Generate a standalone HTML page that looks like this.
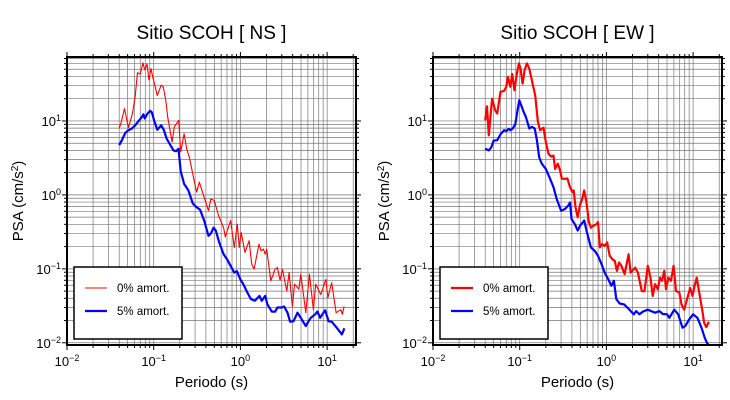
<!DOCTYPE html>
<html><head><meta charset="utf-8"><style>
body{margin:0;background:#fff;}
svg{display:block;font-family:"Liberation Sans",sans-serif;}
</style></head><body>
<svg id="chart" width="730" height="400" viewBox="0 0 730 400"></svg>
<script>
// Data: periods (s) and PSA (cm/s^2)
const nsRedT=[0.040,0.042,0.046,0.051,0.057,0.061,0.065,0.070,0.075,0.079,0.084,0.088,0.093,0.097,0.104,0.110,0.122,0.129,0.138,0.145,0.163,0.173,0.194,0.205,0.224,0.240,0.258,0.292,0.313,0.336,0.381,0.428,0.455,0.50,0.56,0.64,0.67,0.77,0.85,0.92,0.97,1.02,1.13,1.26,1.35,1.44,1.64,1.73,1.84,1.93,2.01,2.24,2.51,2.67,2.87,3.05,3.43,3.64,3.98,4.20,4.71,4.97,5.67,6.25,6.95,7.39,8.45,9.66,10.2,11.3,12.7,14.4,15.0,15.7];
const nsRedA=[7.9,9.4,14.7,8.1,12.6,21,45,43,61,49,59,36,51,40,29,22,30.5,29,19,11.3,5.2,8.3,10.2,3.8,6.7,4.2,3.2,1.57,1.09,1.49,0.93,0.61,0.88,0.84,0.52,0.36,0.27,0.45,0.195,0.40,0.195,0.31,0.167,0.24,0.116,0.099,0.216,0.175,0.185,0.158,0.185,0.069,0.099,0.104,0.070,0.099,0.050,0.089,0.031,0.062,0.053,0.085,0.0255,0.085,0.028,0.062,0.045,0.072,0.041,0.065,0.0255,0.028,0.0243,0.031];
const nsBlueT=[0.040,0.043,0.047,0.051,0.056,0.061,0.067,0.073,0.076,0.079,0.085,0.091,0.095,0.101,0.110,0.122,0.131,0.141,0.154,0.169,0.181,0.193,0.205,0.224,0.251,0.282,0.313,0.343,0.381,0.428,0.455,0.49,0.52,0.57,0.64,0.70,0.77,0.85,0.91,1.0,1.08,1.20,1.32,1.47,1.66,1.76,1.93,2.05,2.30,2.51,2.67,3.0,3.19,3.49,3.74,4.09,4.55,4.97,5.67,6.1,6.49,7.28,7.73,8.3,9.5,10.4,11.3,12.9,14.8,15.8];
const nsBlueA=[4.7,5.5,6.9,7.5,7.9,8.7,10,11.3,12.3,10.8,12.6,13.7,13.1,10.2,7.6,8.7,7.5,5.8,4.8,4.0,3.9,4.2,2.1,1.41,1.15,0.77,0.68,0.63,0.45,0.28,0.30,0.36,0.33,0.228,0.158,0.135,0.11,0.089,0.093,0.072,0.062,0.048,0.039,0.037,0.043,0.037,0.043,0.033,0.0264,0.0263,0.030,0.030,0.031,0.0255,0.0193,0.0195,0.0255,0.0218,0.0168,0.0195,0.0218,0.0243,0.0264,0.0218,0.0275,0.0195,0.0193,0.016,0.013,0.0157];
const ewRedT=[0.040,0.042,0.044,0.048,0.052,0.055,0.060,0.066,0.070,0.073,0.078,0.082,0.087,0.092,0.098,0.102,0.108,0.114,0.121,0.129,0.138,0.151,0.162,0.172,0.188,0.20,0.215,0.231,0.245,0.256,0.275,0.292,0.306,0.333,0.355,0.38,0.405,0.42,0.44,0.466,0.495,0.526,0.555,0.59,0.628,0.662,0.70,0.767,0.80,0.84,0.89,0.956,1.02,1.09,1.17,1.25,1.32,1.40,1.49,1.62,1.80,1.90,2.15,2.31,2.56,2.75,3.0,3.22,3.42,3.64,3.91,4.15,4.38,4.65,4.86,5.18,5.55,5.96,6.34,6.92,7.35,7.89,8.61,9.25,9.83,10.3,11.0,11.7,12.8,13.4,14.2,15.2];
const ewRedA=[10.2,15.8,6.4,20,14,12.6,24.8,25.5,29,39.5,29,43,26,41.7,60,51,32,48.7,60,51,35.6,22.3,9.7,7.5,8.1,5.2,3.6,3.3,3.4,2.25,2.64,2.14,1.65,1.65,1.67,1.27,1.09,1.15,0.68,0.50,0.72,0.88,1.15,0.79,0.43,0.36,0.38,0.40,0.43,0.195,0.216,0.205,0.228,0.150,0.135,0.128,0.094,0.122,0.110,0.085,0.158,0.089,0.104,0.089,0.050,0.050,0.110,0.076,0.043,0.062,0.053,0.076,0.069,0.094,0.053,0.076,0.069,0.110,0.050,0.048,0.033,0.028,0.041,0.055,0.043,0.056,0.076,0.050,0.027,0.0187,0.0163,0.0193];
const ewBlueT=[0.040,0.044,0.047,0.050,0.055,0.060,0.066,0.070,0.075,0.078,0.083,0.089,0.093,0.099,0.104,0.111,0.118,0.129,0.138,0.149,0.158,0.168,0.18,0.20,0.224,0.245,0.267,0.30,0.333,0.364,0.38,0.397,0.433,0.466,0.495,0.555,0.59,0.662,0.735,0.80,0.877,0.956,1.05,1.14,1.22,1.30,1.42,1.60,1.74,1.93,2.07,2.2,2.41,2.63,3.0,3.28,3.64,4.08,4.46,5.0,5.31,6.06,6.73,7.55,8.1,9.0,10,11.2,12.5,13.6,14.6,15.2];
const ewBlueA=[4.2,4.0,4.4,5.4,5.5,6.6,7.5,7.3,7.8,7.5,7.9,9.0,12.6,19.1,16.3,13.3,11.3,7.9,8.3,7.9,5.5,3.2,2.64,2.25,1.65,1.27,0.88,0.61,0.645,0.72,0.79,0.47,0.40,0.33,0.38,0.45,0.33,0.195,0.175,0.150,0.116,0.089,0.072,0.059,0.069,0.039,0.034,0.033,0.030,0.0264,0.0243,0.0268,0.0243,0.0264,0.028,0.0268,0.0255,0.0268,0.0245,0.0243,0.0218,0.028,0.0243,0.016,0.0168,0.0207,0.0243,0.0218,0.016,0.0117,0.0097,0.0097];
const xTickExps=[-2,-1,0,1];
const yTickExps=[-2,-1,0,1];

const NS="http://www.w3.org/2000/svg";
const svg=document.getElementById('chart');
function mk(tag,attrs,parent){const e=document.createElementNS(NS,tag);for(const k in attrs)e.setAttribute(k,attrs[k]);(parent||svg).appendChild(e);return e;}
const XMIN=-2,XMAX=1.333,YMIN=-2.03,YMAX=1.865;
function panel(ox,title,key,redT,redA,blueT,blueA,redW){
  const L=ox,R=ox+289,T=57,B=345;
  const g=mk('g',{});
  
  
  const sx=v=>L+(Math.log10(v)-XMIN)/(XMAX-XMIN)*(R-L);
  const sy=v=>B-(Math.log10(v)-YMIN)/(YMAX-YMIN)*(B-T);
  const grid=mk('g',{stroke:'#777','stroke-width':'0.7'},g);
  
  
  for(let d=-2;d<=1;d++)for(let k=1;k<=9;k++){
    const v=k*Math.pow(10,d);const x=sx(v);
    if(x>L+0.5&&x<R-0.5)mk('line',{x1:x,x2:x,y1:T,y2:B},grid);
    const y=sy(v);
    if(y>T+0.5&&y<B-0.5)mk('line',{x1:L,x2:R,y1:y,y2:y},grid);
  }
  // tick marks outside
  const tk=mk('g',{stroke:'#000','stroke-width':'1'},g);
  for(let d=-2;d<=1;d++)for(let k=1;k<=9;k++){
    const v=k*Math.pow(10,d);const x=sx(v);const len=k==1?5:3;
    if(x>=L-0.5&&x<=R+0.5){mk('line',{x1:x,x2:x,y1:B,y2:B+len},tk);mk('line',{x1:x,x2:x,y1:T,y2:T-len},tk);}
    const y=sy(v);
    if(y>=T-0.5&&y<=B+0.5){mk('line',{x1:L,x2:L-len,y1:y,y2:y},tk);mk('line',{x1:R,x2:R+len,y1:y,y2:y},tk);}
  }
  const clip=mk('clipPath',{id:'c'+key},g);mk('rect',{x:L,y:T,width:R-L,height:B-T},clip);
  const pts=(ts,as)=>ts.map((t,i)=>sx(t).toFixed(1)+','+sy(as[i]).toFixed(1)).join(' ');
  const red=mk('polyline',{points:pts(redT,redA),fill:'none',stroke:'#ff0000','stroke-width':redW,'stroke-linejoin':'round','clip-path':'url(#c'+key+')'},g);
  
  
  const blue=mk('polyline',{points:pts(blueT,blueA),fill:'none',stroke:'#0000ff','stroke-width':'2.2','stroke-linejoin':'round','clip-path':'url(#c'+key+')'},g);
  
  
  const fr=mk('rect',{x:L,y:T,width:R-L,height:B-T,fill:'none',stroke:'#000','stroke-width':'2'},g);
  
  
  xTickExps.forEach(e=>{
    const t=mk('text',{x:sx(Math.pow(10,e)),y:366,'text-anchor':'middle','font-size':'13'},g);
    
    
    t.innerHTML='10<tspan dy="-5" font-size="9">'+(e<0?'\u2212'+(-e):e)+'</tspan>';
  });
  yTickExps.forEach(e=>{
    const t=mk('text',{x:L-6,y:sy(Math.pow(10,e))+5,'text-anchor':'end','font-size':'13'},g);
    
    
    t.innerHTML='10<tspan dy="-5" font-size="9">'+(e<0?'\u2212'+(-e):e)+'</tspan>';
  });
  const ti=mk('text',{x:(L+R)/2,y:39,'text-anchor':'middle','font-size':'19'},g);
  
  
  ti.textContent=title;
  const xl=mk('text',{x:(L+R)/2,y:387,'text-anchor':'middle','font-size':'15'},g);
  
  
  xl.textContent='Periodo (s)';
  const yl=mk('text',{x:0,y:0,'text-anchor':'middle','font-size':'15',transform:'translate('+(L-44)+','+((T+B)/2)+') rotate(-90)'},g);
  
  
  yl.innerHTML='PSA (cm/s<tspan dy="-5" font-size="10">2</tspan><tspan dy="5">)</tspan>';
  const lg=mk('g',{},g);
  
  
  mk('rect',{x:L+7,y:267,width:108,height:72,fill:'#fff',stroke:'#000','stroke-width':'1.5'},lg);
  mk('line',{x1:L+18,x2:L+40,y1:288,y2:288,stroke:'#ff0000','stroke-width':redW},lg);
  mk('line',{x1:L+18,x2:L+40,y1:311,y2:311,stroke:'#0000ff','stroke-width':'2.2'},lg);
  const t1=mk('text',{x:L+50,y:292,'font-size':'11.5'},lg);t1.textContent='0% amort.';
  
  
  const t2=mk('text',{x:L+50,y:315,'font-size':'11.5'},lg);t2.textContent='5% amort.';
  
  
}
panel(67,'Sitio SCOH [ NS ]','ns',nsRedT,nsRedA,nsBlueT,nsBlueA,'1.1');
panel(433,'Sitio SCOH [ EW ]','ew',ewRedT,ewRedA,ewBlueT,ewBlueA,'2.2');
</script>
</body></html>
